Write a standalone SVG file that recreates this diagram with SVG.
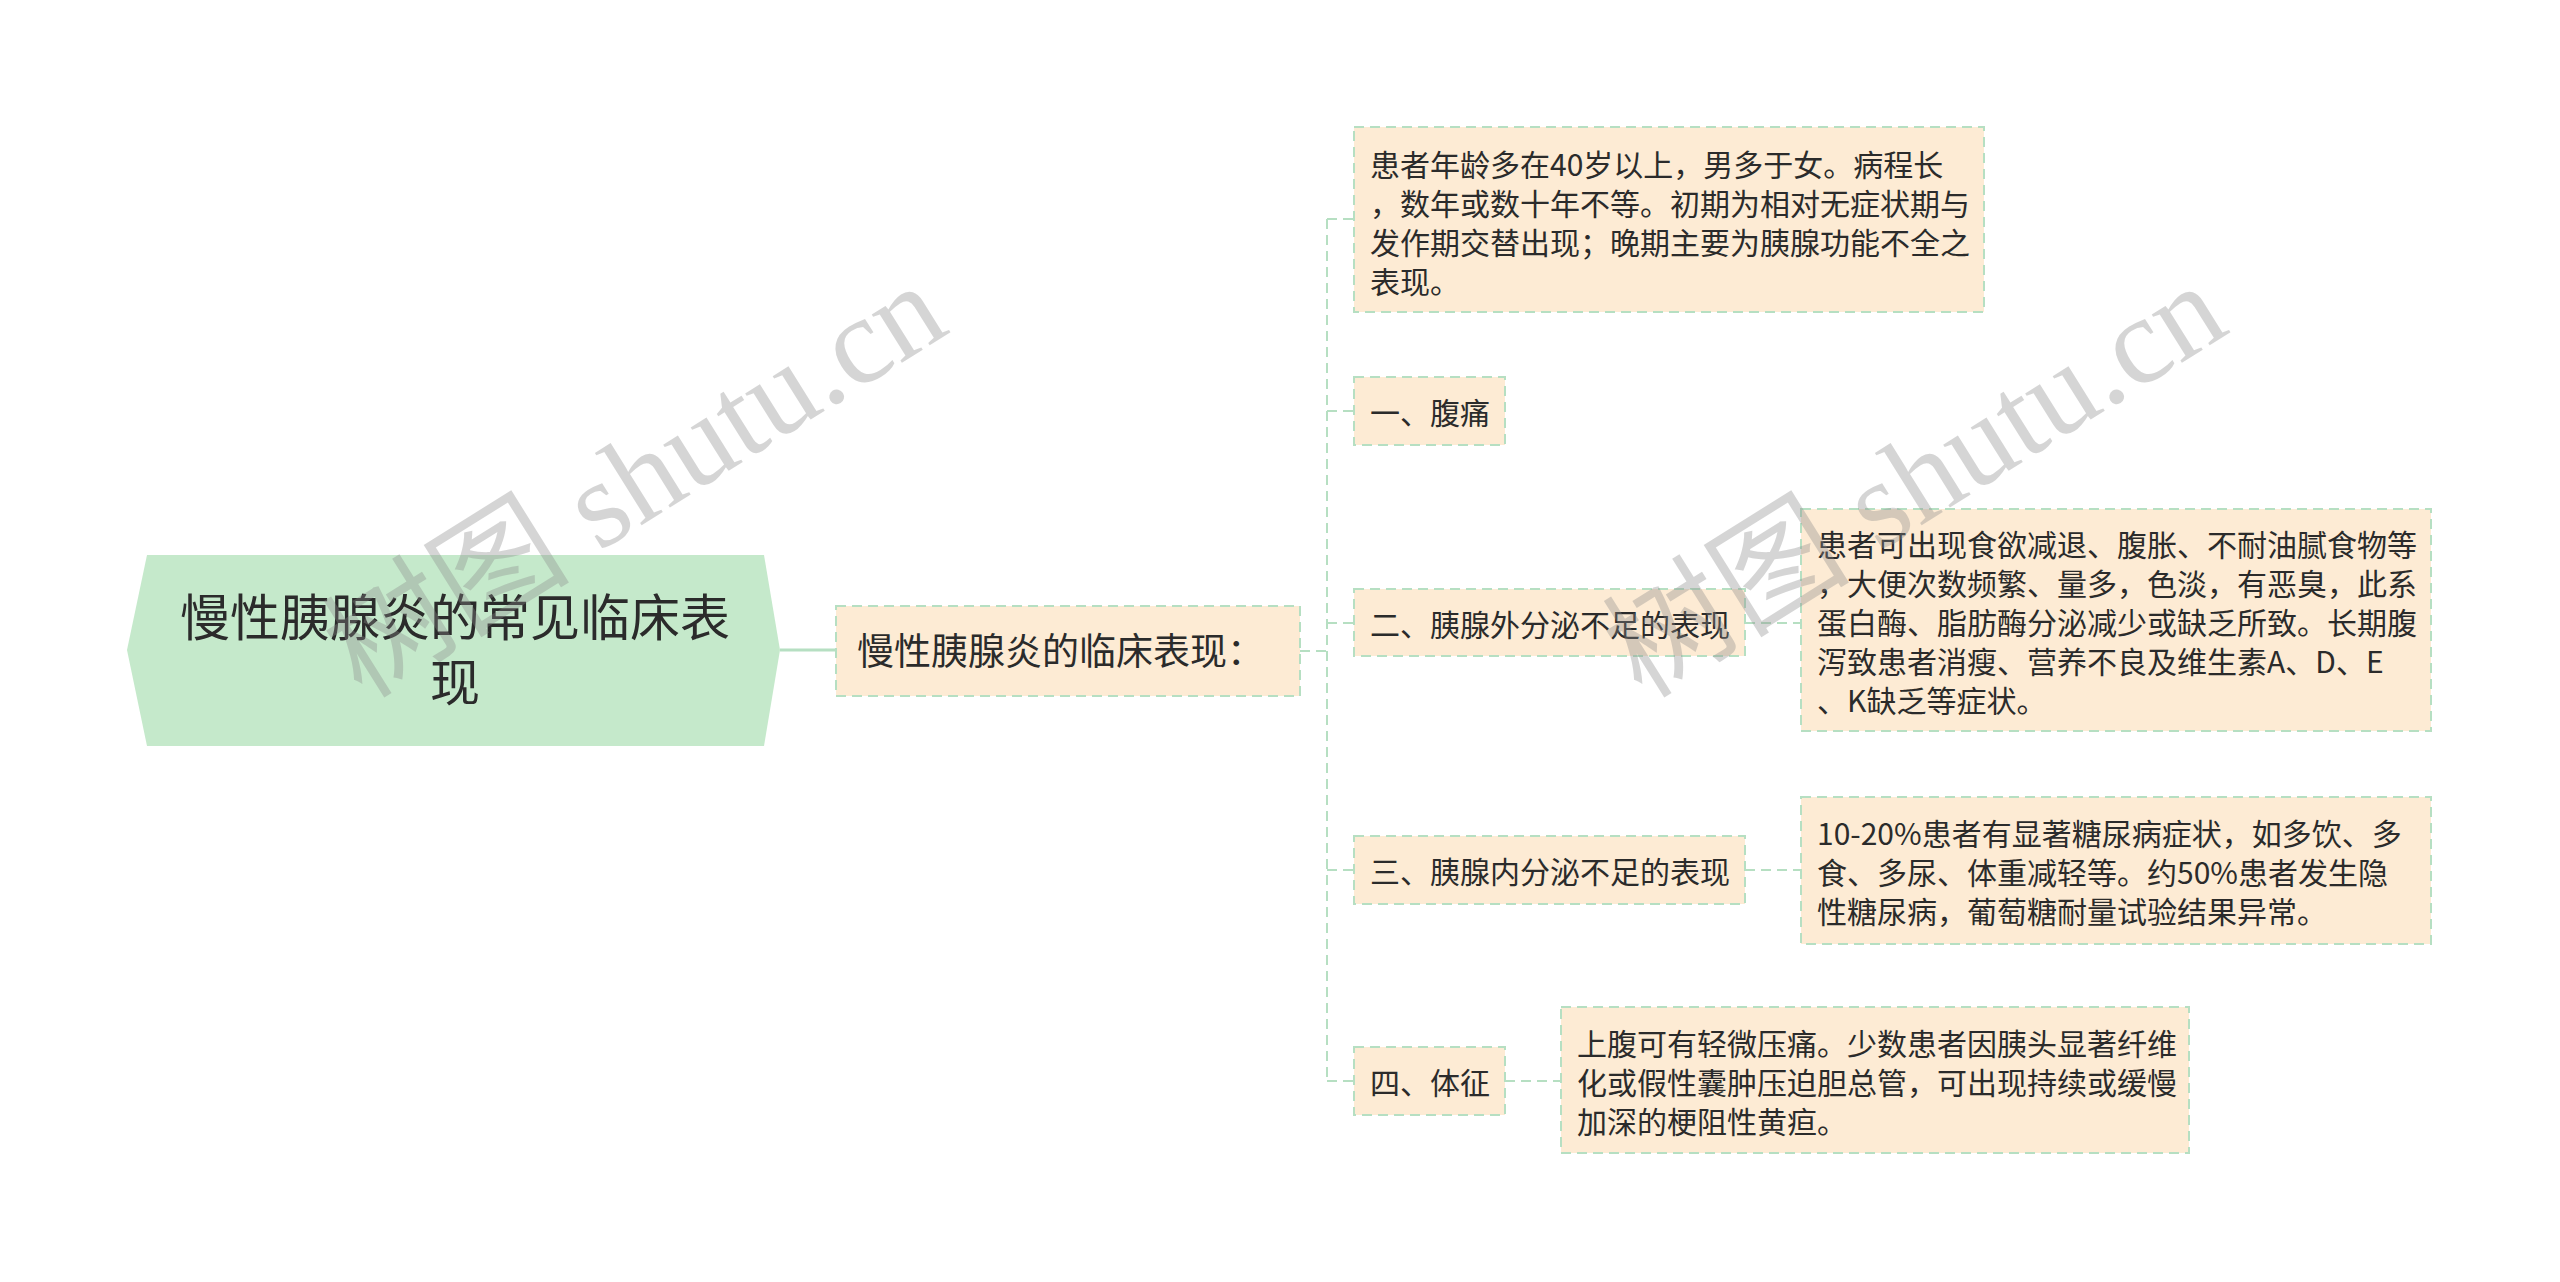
<svg xmlns="http://www.w3.org/2000/svg" width="2560" height="1282" viewBox="0 0 2560 1282">
<style>
.box{fill:#fdebd4;stroke:#b6dfc2;stroke-width:2;stroke-dasharray:10 6}
.t{font-family:"Noto Sans CJK SC","Noto Sans",sans-serif;fill:#2b2b2b}
.s30{font-size:30px}
.conn{fill:none;stroke:#b6dfc2;stroke-width:2;stroke-dasharray:10 6}
.wm{font-family:"Liberation Serif","Noto Sans CJK SC",serif;font-size:124px;fill:#8a8a8a;opacity:0.35}
</style>
<rect width="2560" height="1282" fill="#ffffff"/>
<g id="connectors">
<line x1="780" y1="650" x2="836" y2="650" stroke="#b6dfc2" stroke-width="3"/>
<path class="conn" d="M1300 651 H1327"/>
<path class="conn" d="M1327 219 V1081"/>
<path class="conn" d="M1327 219 H1354"/>
<path class="conn" d="M1327 411 H1354"/>
<path class="conn" d="M1327 623 H1354"/>
<path class="conn" d="M1327 870 H1354"/>
<path class="conn" d="M1327 1081 H1354"/>
<path class="conn" d="M1745 623 H1801"/>
<path class="conn" d="M1745 870 H1801"/>
<path class="conn" d="M1505 1081 H1561"/>
</g>
<g id="root">
<polygon points="127,650 147,555 764,555 780,650 764,746 147,746" fill="#c5e9cb"/>
<text class="t" x="455" y="636" font-size="50" text-anchor="middle">慢性胰腺炎的常见临床表</text>
<text class="t" x="455" y="701" font-size="50" text-anchor="middle">现</text>
</g>
<g id="main">
<rect class="box" x="836" y="606" width="464" height="90"/>
<text class="t" x="857" y="665" font-size="37">慢性胰腺炎的临床表现：</text>
</g>
<g id="n1">
<rect class="box" x="1354" y="127" width="630" height="185"/>
<text class="t s30" x="1370"><tspan x="1370" y="176">患者年龄多在40岁以上，男多于女。病程长</tspan><tspan x="1370" y="215">，数年或数十年不等。初期为相对无症状期与</tspan><tspan x="1370" y="254">发作期交替出现；晚期主要为胰腺功能不全之</tspan><tspan x="1370" y="293">表现。</tspan></text>
</g>
<g id="n2">
<rect class="box" x="1354" y="377" width="151" height="68"/>
<text class="t s30" x="1370" y="424">一、腹痛</text>
</g>
<g id="n3">
<rect class="box" x="1354" y="589" width="391" height="67"/>
<text class="t s30" x="1370" y="636">二、胰腺外分泌不足的表现</text>
</g>
<g id="n3a">
<rect class="box" x="1801" y="509" width="630" height="222"/>
<text class="t s30"><tspan x="1817" y="556">患者可出现食欲减退、腹胀、不耐油腻食物等</tspan><tspan x="1817" y="595">，大便次数频繁、量多，色淡，有恶臭，此系</tspan><tspan x="1817" y="634">蛋白酶、脂肪酶分泌减少或缺乏所致。长期腹</tspan><tspan x="1817" y="673">泻致患者消瘦、营养不良及维生素A、D、E</tspan><tspan x="1817" y="712">、K缺乏等症状。</tspan></text>
</g>
<g id="n4">
<rect class="box" x="1354" y="836" width="391" height="68"/>
<text class="t s30" x="1370" y="883">三、胰腺内分泌不足的表现</text>
</g>
<g id="n4a">
<rect class="box" x="1801" y="797" width="630" height="147"/>
<text class="t s30"><tspan x="1817" y="845">10-20%患者有显著糖尿病症状，如多饮、多</tspan><tspan x="1817" y="884">食、多尿、体重减轻等。约50%患者发生隐</tspan><tspan x="1817" y="923">性糖尿病，葡萄糖耐量试验结果异常。</tspan></text>
</g>
<g id="n5">
<rect class="box" x="1354" y="1047" width="151" height="68"/>
<text class="t s30" x="1370" y="1094">四、体征</text>
</g>
<g id="n5a">
<rect class="box" x="1561" y="1007" width="628" height="146"/>
<text class="t s30"><tspan x="1577" y="1055">上腹可有轻微压痛。少数患者因胰头显著纤维</tspan><tspan x="1577" y="1094">化或假性囊肿压迫胆总管，可出现持续或缓慢</tspan><tspan x="1577" y="1133">加深的梗阻性黄疸。</tspan></text>
</g>
<g id="watermark">
<text class="wm" x="0" y="0" transform="translate(362,700) rotate(-32)">树图 shutu.cn</text>
<text class="wm" x="0" y="0" transform="translate(1642,700) rotate(-32)">树图 shutu.cn</text>
</g>
</svg>
